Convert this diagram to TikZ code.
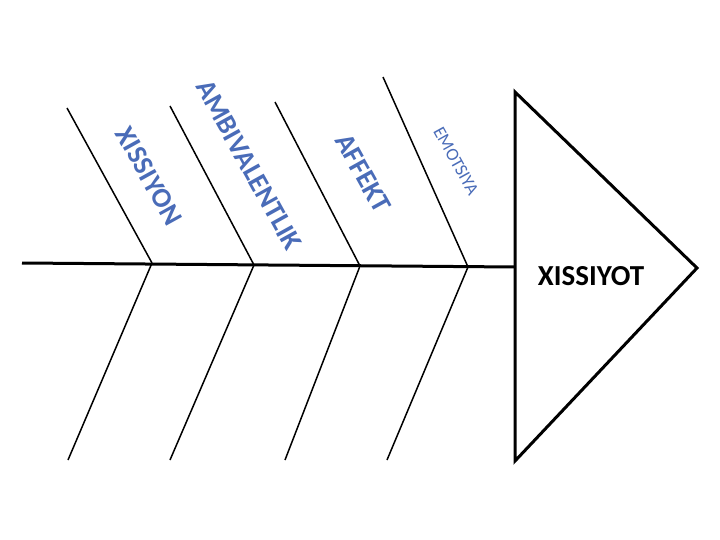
\documentclass[tikz,border=0pt]{standalone}
\usepackage{fontspec}
\setmainfont{Carlito}
\usepackage{tikz}
\definecolor{boneblue}{HTML}{4A6CB8}
\tikzset{
  bone/.style={line width=1.5pt},
  lbl/.style={text=boneblue, rotate=-61, inner sep=0pt}
}
\begin{document}
\begin{tikzpicture}[x=1pt, y=-1pt]
\useasboundingbox (0,0) rectangle (720,540);
% head
\coordinate (h1) at (515,92);
\coordinate (h2) at (697,268);
\coordinate (h3) at (515,461);
\draw[line width=3pt, line join=miter] (h1) -- (h2) -- (h3) -- cycle;
\node[font=\bfseries\fontsize{29}{32}\selectfont] (head) at (591,276) {XISSIYOT};

% spine
\coordinate (s0) at (22,263);
\coordinate (s5) at (515,267);
\draw[line width=3pt] (s0) -- (s5);

% joints on the spine
\coordinate (j1) at (152,263);
\coordinate (j2) at (254,265);
\coordinate (j3) at (360,266);
\coordinate (j4) at (468,267);

% upper bones
\coordinate (u1) at (67,108);
\coordinate (u2) at (170,106);
\coordinate (u3) at (275,102);
\coordinate (u4) at (383,77);

% lower bones
\coordinate (d1) at (68,460);
\coordinate (d2) at (170,460);
\coordinate (d3) at (285,460);
\coordinate (d4) at (387,460);

\foreach \i in {1,2,3,4} {
  \draw[bone] (u\i) -- (j\i);
  \draw[bone] (j\i) -- (d\i);
}

% labels
\node[lbl, font=\bfseries\fontsize{28}{31}\selectfont] (l1) at (149,176) {XISSIYON};
\node[lbl, font=\bfseries\fontsize{28}{31}\selectfont] (l2) at (249,165) {AMBIVALENTLIK};
\node[lbl, font=\bfseries\fontsize{28}{31}\selectfont] (l3) at (363,173) {AFFEKT};
\node[lbl, font=\fontsize{18}{20}\selectfont] (l4) at (456,161) {EMOTSIYA};
\end{tikzpicture}
\end{document}
